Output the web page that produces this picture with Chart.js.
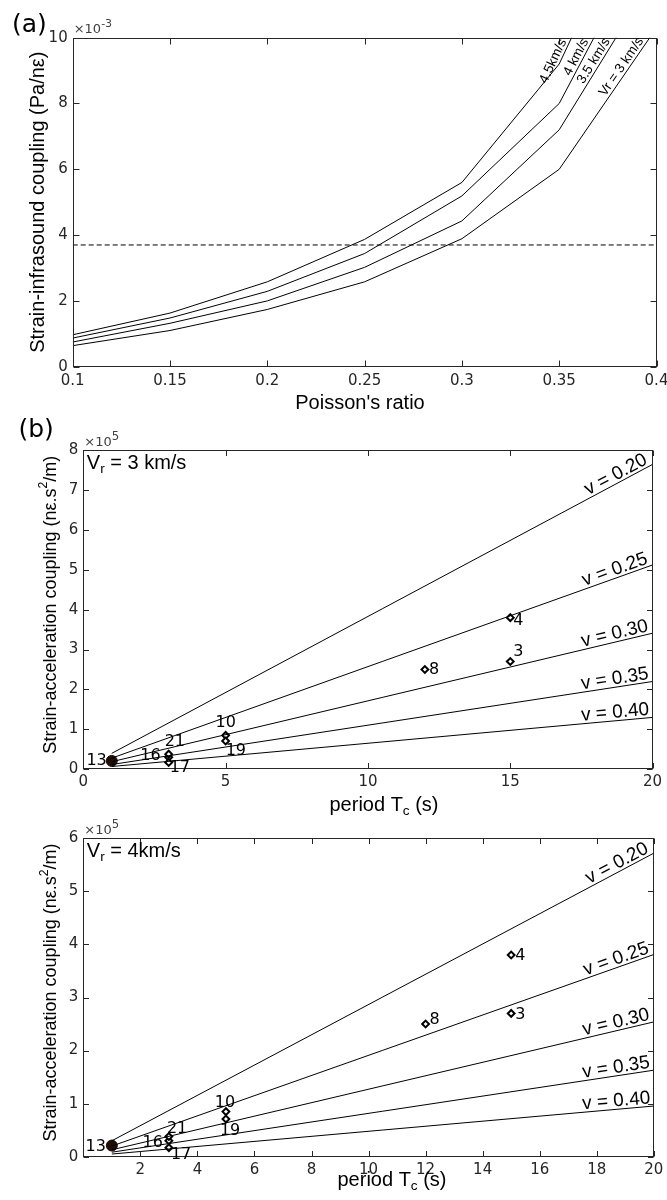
<!DOCTYPE html>
<html>
<head>
<meta charset="utf-8">
<script src="https://cdn.jsdelivr.net/npm/chart.js@4/dist/chart.umd.min.js"></script>
<style>
  body { margin: 0; background: #fff; width: 667px; height: 1200px; position: relative; overflow: hidden; }
  canvas { position: absolute; left: 0; }
</style>
</head>
<body>
<canvas id="chartA" width="667" height="420" style="top:0"></canvas>
<canvas id="chartB" width="667" height="420" style="top:400px"></canvas>
<canvas id="chartC" width="667" height="400" style="top:800px"></canvas>
<script>
// ---- (a) strain-infrasound coupling vs Poisson's ratio (x 1e-3 Pa/nε)
const poisson = [0.1, 0.15, 0.2, 0.25, 0.3, 0.35, 0.4];
const poissonTickLabels = ['0.1', '0.15', '0.2', '0.25', '0.3', '0.35', '0.4'];
const infraTicks = [0, 2, 4, 6, 8, 10];
const infraTickLabels = ['0', '2', '4', '6', '8', '10'];
const velocityLabels = ['4.5km/s', '4 km/s', '3.5 km/s', 'Vr = 3 km/s'];
const coupling45 = [0.97, 1.63, 2.58, 3.87, 5.6, 9.2, 15.5];
const coupling40 = [0.87, 1.48, 2.29, 3.44, 5.19, 8.0, 13.6];
const coupling35 = [0.75, 1.32, 2.0, 3.02, 4.43, 7.2, 12.0];
const coupling30 = [0.64, 1.10, 1.74, 2.58, 3.89, 6.0, 10.3];
const threshold = 3.7;

// ---- (b), (c) strain-acceleration coupling vs period (x 1e5 nε.s²/m)
const periodRange = [1, 20];
const nuLabels = ['v = 0.20', 'v = 0.25', 'v = 0.30', 'v = 0.35', 'v = 0.40'];
const vr3Start = [0.40, 0.28, 0.19, 0.12, 0.07];
const vr3End = [7.64, 5.12, 3.41, 2.20, 1.30];
const vr4Start = [0.30, 0.20, 0.13, 0.085, 0.05];
const vr4End = [5.72, 3.81, 2.54, 1.63, 0.955];

const eventIds = ['13', '16', '17', '21', '10', '19', '8', '4', '3'];
const eventPeriod = [1, 3, 3, 3, 5, 5, 12, 15, 15];
const eventCoupling = [0.21, 0.30, 0.17, 0.38, 0.85, 0.71, 2.5, 3.8, 2.7];

const periodTicksB = [0, 5, 10, 15, 20];
const periodTickLabelsB = ['0', '5', '10', '15', '20'];
const accelTicksB = [0, 1, 2, 3, 4, 5, 6, 7, 8];
const accelTickLabelsB = ['0', '1', '2', '3', '4', '5', '6', '7', '8'];
const periodTicksC = [2, 4, 6, 8, 10, 12, 14, 16, 18, 20];
const periodTickLabelsC = ['2', '4', '6', '8', '10', '12', '14', '16', '18', '20'];
const accelTicksC = [0, 1, 2, 3, 4, 5, 6];
const accelTickLabelsC = ['0', '1', '2', '3', '4', '5', '6'];

// ---- styles
const TICK_FONT = 'DejaVu Sans';
const TEXT_FONT = '"Liberation Sans", Arial, sans-serif';
const AXIS_COLOR = '#262626';

// label offsets: [dx, dy, align]
const eventLabelPosB = {
  '13': [-5, 0, 'right'], '16': [-8, -1, 'right'], '17': [1, 5, 'left'], '21': [-4, -12, 'left'],
  '10': [0, -13, 'center'], '19': [0, 10, 'left'], '8': [4, 0, 'left'], '4': [3, 3, 'left'], '3': [3, -10, 'left']
};
const eventLabelPosC = {
  '13': [-6, 1, 'right'], '16': [-6, 2, 'right'], '17': [2, 7, 'left'], '21': [-2, -8, 'left'],
  '10': [-1, -9, 'center'], '19': [-6, 12, 'left'], '8': [4, -4, 'left'], '4': [4, 1, 'left'], '3': [4, 1, 'left']
};

function drawRich(ctx, parts, x, y, family, size, align) {
  const seg = parts.map(p => {
    const s = p.sub || p.sup ? size * (p.scale || 0.68) : size;
    ctx.font = `${s}px ${family}`;
    return { t: p.t, s, w: ctx.measureText(p.t).width, dy: p.sub ? size * 0.2 : p.sup ? -size * 0.45 : 0 };
  });
  const total = seg.reduce((a, b) => a + b.w, 0);
  let cx = align === 'center' ? x - total / 2 : x;
  ctx.textAlign = 'left';
  ctx.textBaseline = 'alphabetic';
  seg.forEach(p => {
    ctx.font = `${p.s}px ${family}`;
    ctx.fillText(p.t, cx, y + p.dy);
    cx += p.w;
  });
}

// text along the last visible segment of a line dataset, ending where it reaches `stop`
function labelAlongLine(chart, dsIndex, text, stopAxis, stop, size) {
  const { ctx, scales: { x, y } } = chart;
  const pts = chart.data.datasets[dsIndex].data;
  let k = pts.findIndex(p => p[stopAxis] >= stop);
  if (k < 1) k = pts.length - 1;
  const p0 = pts[k - 1], p1 = pts[k];
  const t = (stop - p0[stopAxis]) / (p1[stopAxis] - p0[stopAxis]);
  const x0 = x.getPixelForValue(p0.x), y0 = y.getPixelForValue(p0.y);
  const x1 = x.getPixelForValue(p1.x), y1 = y.getPixelForValue(p1.y);
  const ax = x0 + t * (x1 - x0), ay = y0 + t * (y1 - y0);
  ctx.save();
  ctx.translate(ax, ay);
  ctx.rotate(Math.atan2(y1 - y0, x1 - x0));
  ctx.font = `${size}px ${TEXT_FONT}`;
  ctx.fillStyle = '#000';
  ctx.textAlign = 'right';
  ctx.textBaseline = 'alphabetic';
  ctx.fillText(text, 0, -3);
  ctx.restore();
}

const decor = {
  id: 'decor',
  afterDatasetsDraw(chart, args, o) {
    const { ctx, chartArea: a, scales: { x, y } } = chart;
    ctx.save();
    // box and inward ticks
    ctx.strokeStyle = AXIS_COLOR;
    ctx.lineWidth = 1;
    const L = Math.round(a.left) + 0.5, R = Math.round(a.right) - 0.5;
    const T = Math.round(a.top) + 0.5, B = Math.round(a.bottom) - 0.5;
    ctx.strokeRect(L, T, R - L, B - T);
    ctx.beginPath();
    x.ticks.forEach(t => {
      const p = Math.round(x.getPixelForValue(t.value)) + 0.5;
      ctx.moveTo(p, B); ctx.lineTo(p, B - o.tick);
      ctx.moveTo(p, T); ctx.lineTo(p, T + o.tick);
    });
    y.ticks.forEach(t => {
      const p = Math.round(y.getPixelForValue(t.value)) + 0.5;
      ctx.moveTo(L, p); ctx.lineTo(L + o.tick, p);
      ctx.moveTo(R, p); ctx.lineTo(R - o.tick, p);
    });
    ctx.stroke();

    // panel letter
    ctx.fillStyle = '#000';
    ctx.font = `25px ${TICK_FONT}`;
    ctx.textAlign = 'left';
    ctx.textBaseline = 'alphabetic';
    ctx.fillText(o.panel, o.panelPos[0], o.panelPos[1]);

    // exponent
    ctx.fillStyle = '#404040';
    drawRich(ctx, o.exponent, a.left + 1, a.top - 4.5, TICK_FONT, 13);

    // axis titles
    ctx.fillStyle = '#000';
    drawRich(ctx, o.xTitle, o.xTitlePos[0], o.xTitlePos[1], TEXT_FONT, 20, 'center');
    ctx.save();
    ctx.translate(o.yTitleX, (a.top + a.bottom) / 2 + o.yTitleShift);
    ctx.rotate(-Math.PI / 2);
    drawRich(ctx, o.yTitle, 0, 0, TEXT_FONT, o.yTitleSize, 'center');
    ctx.restore();

    // corner annotation
    if (o.corner) drawRich(ctx, o.corner, a.left + 3.5, a.top + 19, TEXT_FONT, 20);

    // curve labels
    o.lineLabels.forEach((txt, i) => labelAlongLine(chart, i, txt, o.stopAxis, o.stop, o.lineLabelSize));

    // event labels
    if (o.events) {
      const meta = chart.getDatasetMeta(chart.data.datasets.length - 1);
      ctx.font = `16px ${TICK_FONT}`;
      ctx.fillStyle = '#000';
      ctx.textBaseline = 'middle';
      meta.data.forEach((el, i) => {
        const id = eventIds[i];
        const [dx, dy, al] = o.events[id];
        ctx.textAlign = al;
        ctx.fillText(id, el.x + dx, el.y + dy);
      });
    }
    ctx.restore();
  }
};

function scaleOpts(min, max, values, labels, size, pad, fitSize, horizontal) {
  return {
    type: 'linear', min, max,
    grid: { display: false, drawTicks: false },
    border: { display: false },
    ticks: {
      autoSkip: false, maxRotation: 0, padding: pad, color: AXIS_COLOR,
      font: { family: TICK_FONT, size },
      callback: (v, i) => labels[i]
    },
    afterBuildTicks: s => { s.ticks = values.map(v => ({ value: v })); },
    afterFit: s => {
      if (horizontal) s.height = fitSize; else s.width = fitSize;
      s.paddingLeft = s.paddingRight = s.paddingTop = s.paddingBottom = 0;
    }
  };
}

const lineStyle = { borderColor: '#000', borderWidth: 1, pointRadius: 0, fill: false, tension: 0 };

// ---------- (a)
new Chart(document.getElementById('chartA'), {
  type: 'line',
  data: {
    datasets: [
      ...[coupling45, coupling40, coupling35, coupling30].map(c => ({
        ...lineStyle, data: poisson.map((p, i) => ({ x: p, y: c[i] }))
      })),
      { ...lineStyle, borderDash: [5, 3], data: [{ x: poisson[0], y: threshold }, { x: poisson[poisson.length - 1], y: threshold }] }
    ]
  },
  options: {
    responsive: false, animation: false, devicePixelRatio: 1,
    layout: { padding: { left: 0, top: 37.7, right: 10.5, bottom: 0 } },
    scales: {
      x: scaleOpts(0.1, 0.4, poisson, poissonTickLabels, 15, 5.5, 420 - 366.7, true),
      y: scaleOpts(0, 10, infraTicks, infraTickLabels, 15, 5, 72.7, false)
    },
    plugins: {
      legend: { display: false }, tooltip: { enabled: false },
      decor: {
        tick: 6, panel: '(a)', panelPos: [12, 31.5],
        exponent: [{ t: '×10' }, { t: '-3', sup: true, scale: 0.85 }],
        xTitle: [{ t: "Poisson's ratio" }], xTitlePos: [360, 409.3],
        yTitle: [{ t: 'Strain-infrasound coupling (Pa/nε)' }], yTitleX: 43.5, yTitleShift: 0, yTitleSize: 20,
        lineLabels: velocityLabels, stopAxis: 'y', stop: 9.85, lineLabelSize: 13.5
      }
    }
  },
  plugins: [decor]
});

// ---------- (b), (c)
function accelChart(id, starts, ends, xt, xl, yt, yl, ymax, pad, opts) {
  return new Chart(document.getElementById(id), {
    type: 'line',
    data: {
      datasets: [
        ...starts.map((s, i) => ({
          ...lineStyle, data: [{ x: periodRange[0], y: s }, { x: periodRange[1], y: ends[i] }]
        })),
        {
          type: 'scatter', showLine: false,
          data: eventPeriod.map((p, i) => ({ x: p, y: eventCoupling[i] })),
          pointStyle: eventIds.map(e => e === '13' ? 'circle' : 'rectRot'),
          pointRadius: eventIds.map(e => e === '13' ? 5.5 : 3.4),
          backgroundColor: eventIds.map(e => e === '13' ? '#1e0c06' : '#fff'),
          borderColor: eventIds.map(e => e === '13' ? '#1e0c06' : '#000'),
          borderWidth: eventIds.map(e => e === '13' ? 1 : 2)
        }
      ]
    },
    options: {
      responsive: false, animation: false, devicePixelRatio: 1,
      layout: { padding: pad.layout },
      scales: {
        x: scaleOpts(0, 20, xt, xl, 15, 4.3, pad.xHeight, true),
        y: scaleOpts(0, ymax, yt, yl, 15, 5, 83.3, false)
      },
      plugins: {
        legend: { display: false }, tooltip: { enabled: false },
        decor: opts
      }
    },
    plugins: [decor]
  });
}

accelChart('chartB', vr3Start, vr3End, periodTicksB, periodTickLabelsB, accelTicksB, accelTickLabelsB, 8,
  { layout: { left: 0, top: 50, right: 14.4, bottom: 0 }, xHeight: 420 - 369.3 },
  {
    tick: 5.5, panel: '(b)', panelPos: [18.5, 36.5],
    exponent: [{ t: '×10' }, { t: '5', sup: true, scale: 0.9 }],
    xTitle: [{ t: 'period T' }, { t: 'c', sub: true }, { t: ' (s)' }], xTitlePos: [384, 410.7],
    yTitle: [{ t: 'Strain-acceleration coupling (nε.s' }, { t: '2', sup: true }, { t: '/m)' }],
    yTitleX: 55.5, yTitleShift: -5, yTitleSize: 18,
    corner: [{ t: 'V' }, { t: 'r', sub: true }, { t: ' = 3 km/s' }],
    lineLabels: nuLabels, stopAxis: 'x', stop: 19.9, lineLabelSize: 19,
    events: eventLabelPosB
  });

accelChart('chartC', vr4Start, vr4End, periodTicksC, periodTickLabelsC, accelTicksC, accelTickLabelsC, 6,
  { layout: { left: 0, top: 38.3, right: 13.2, bottom: 0 }, xHeight: 400 - 356.7 },
  {
    tick: 5.5, panel: '', panelPos: [0, 0],
    exponent: [{ t: '×10' }, { t: '5', sup: true, scale: 0.9 }],
    xTitle: [{ t: 'period T' }, { t: 'c', sub: true }, { t: ' (s)' }], xTitlePos: [392, 386],
    yTitle: [{ t: 'Strain-acceleration coupling (nε.s' }, { t: '2', sup: true }, { t: '/m)' }],
    yTitleX: 56, yTitleShift: -5, yTitleSize: 18,
    corner: [{ t: 'V' }, { t: 'r', sub: true }, { t: ' = 4km/s' }],
    lineLabels: nuLabels, stopAxis: 'x', stop: 19.9, lineLabelSize: 19,
    events: eventLabelPosC
  });
</script>
</body>
</html>
